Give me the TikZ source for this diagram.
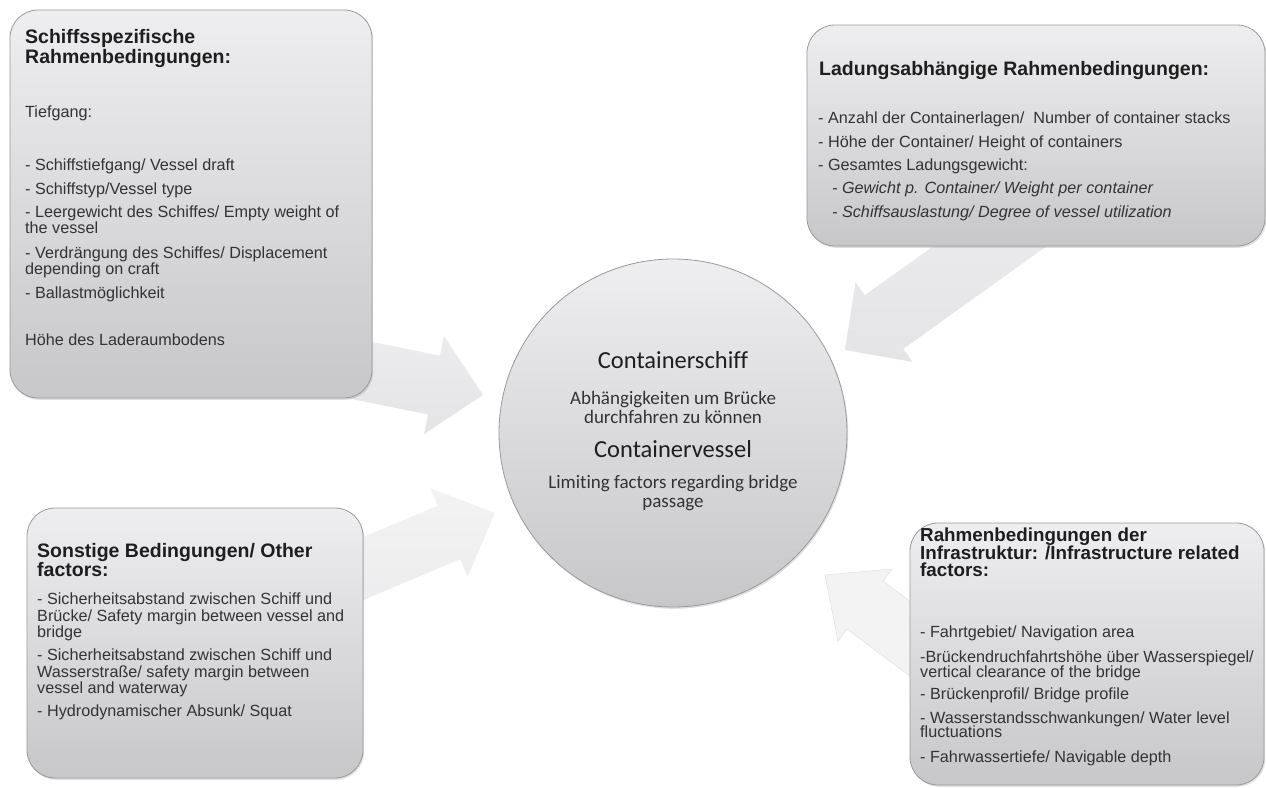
\documentclass[tikz,border=0pt]{standalone}
\usepackage{fontspec}
\setmainfont{Liberation Sans}
\newfontfamily\carl[Ligatures=NoCommon]{Carlito}
\usetikzlibrary{calc,shadows}
\definecolor{boxtop}{HTML}{EEEEF0}
\definecolor{boxbot}{HTML}{C7C7C9}
\definecolor{boxline}{HTML}{9A9A9A}
\definecolor{hdrcol}{HTML}{1E1E1E}
\definecolor{bodycol}{HTML}{333333}
\definecolor{arrA}{HTML}{E4E4E6}
\definecolor{arrB}{HTML}{ECECEE}
\definecolor{arrC}{HTML}{F3F3F3}
\newcommand\blockarr[6]{%
  \coordinate (#1h) at ($(#2)!#5!(#1)$);
  \path[#6] ($(#1)!#3!90:(#2)$) -- ($(#1h)!#3!-90:(#1)$) -- ($(#1h)!#4!-90:(#1)$)
    -- (#2) -- ($(#1h)!#4!90:(#1)$) -- ($(#1h)!#3!90:(#1)$) -- ($(#1)!#3!-90:(#2)$) -- cycle;}
\tikzset{
  box/.style={draw=boxline, line width=0.8pt, rounded corners=28pt, top color=boxtop,
    bottom color=boxbot, inner sep=0pt, drop shadow={opacity=0.25, shadow xshift=1.2pt, shadow yshift=-1.8pt}},
  circ/.style={circle, draw=boxline, line width=0.8pt, top color=boxtop, bottom color=boxbot,
    inner sep=0pt, minimum size=348pt, drop shadow={opacity=0.25, shadow xshift=1.2pt, shadow yshift=-1.8pt}},
  hdr/.style={anchor=base west, inner sep=0pt, text=hdrcol, font=\bfseries\fontsize{19.5}{19.5}\selectfont},
  hdrm/.style={anchor=north west, inner sep=0pt, align=left, text=hdrcol},
  body/.style={anchor=base west, inner sep=0pt, text=bodycol, font=\fontsize{16.2}{16.2}\selectfont},
  bodyit/.style={body, font=\itshape\fontsize{16.2}{16.2}\selectfont},
  ctitle/.style={anchor=base, inner sep=0pt, text=hdrcol, font=\carl\fontsize{24.5}{24.5}\selectfont},
  csub/.style={anchor=base, inner sep=0pt, text=bodycol, font=\carl\fontsize{19}{19}\selectfont},
  arrowA/.style={top color=arrB, bottom color=arrA},
  arrowB/.style={top color=arrC, bottom color=arrB},
  arrowC/.style={fill=arrC, draw=black!12, line width=0.5pt},
}
\begin{document}
\begin{tikzpicture}[x=1pt,y=-1pt]
\useasboundingbox (0,0) rectangle (1266,787);
\fill[white] (0,0) rectangle (1266,787);
% arrows (drawn first, boxes cover their tails)
\coordinate (a1t) at (330,364);  \coordinate (a1p) at (483,395);
\coordinate (a2t) at (329,583);  \coordinate (a2p) at (495,513);
\coordinate (a3t) at (1030,217.5); \coordinate (a3p) at (845,350);
\coordinate (a4t) at (945,665);  \coordinate (a4p) at (825,575);
\blockarr{a1t}{a1p}{30pt}{50pt}{50pt}{arrowA}
\blockarr{a2t}{a2p}{29pt}{48pt}{50pt}{arrowB}
\blockarr{a3t}{a3p}{33pt}{49pt}{48pt}{arrowA}
\blockarr{a4t}{a4p}{30pt}{45pt}{50pt}{arrowC}
% boxes
\node[box, minimum width=362pt, minimum height=388pt] (tl) at (191,204) {};
\node[box, minimum width=458pt, minimum height=221pt] (tr) at (1036,135.5) {};
\node[box, minimum width=336pt, minimum height=270pt] (bl) at (195,643) {};
\node[box, minimum width=354pt, minimum height=262pt] (br) at (1087,654) {};
\node[circ] (c) at (673,433) {};
% top-left text
\node[hdr] (tl1) at (25,43) {Schiffsspezifische};
\node[hdr] (tl2) at (25,63) {Rahmenbedingungen:};
\node[body] (tl3) at (25,117) {Tiefgang:};
\node[body] (tl4) at (25,170) {- Schiffstiefgang/ Vessel draft};
\node[body] (tl5) at (25,194) {- Schiffstyp/Vessel type};
\node[body] (tl6) at (25,217) {- Leergewicht des Schiffes/ Empty weight of};
\node[body] (tl7) at (25,233) {the vessel};
\node[body] (tl8) at (25,258) {- Verdrängung des Schiffes/ Displacement};
\node[body] (tl9) at (25,274) {depending on craft};
\node[body] (tl10) at (25,298) {- Ballastmöglichkeit};
\node[body] (tl11) at (25,345) {Höhe des Laderaumbodens};
% top-right text
\node[hdr] (tr1) at (819,75) {Ladungsabhängige Rahmenbedingungen:};
\node[body] (tr2) at (818,123) {- Anzahl der Containerlagen/\ \ Number of container stacks};
\node[body] (tr3) at (818,147) {- Höhe der Container/ Height of containers};
\node[body] (tr4) at (818,170) {- Gesamtes Ladungsgewicht:};
\node[bodyit] (tr5) at (832,193) {- Gewicht p. Container/ Weight per container};
\node[bodyit] (tr6) at (832,217) {- Schiffsauslastung/ Degree of vessel utilization};
% centre text
\node[ctitle] (c1) at (673,368) {Containerschiff};
\node[csub] (c2) at (673,404) {Abhängigkeiten um Brücke};
\node[csub] (c3) at (673,423) {durchfahren zu können};
\node[ctitle] (c4) at (673,457) {Containervessel};
\node[csub] (c5) at (673,488) {Limiting factors regarding bridge};
\node[csub] (c6) at (673,507) {passage};
% bottom-left text
\node[hdrm, font=\bfseries\fontsize{19.5}{18}\selectfont] (bl1) at (37,543) {Sonstige Bedingungen/ Other\\factors:};
\node[body] (bl3) at (37,604) {- Sicherheitsabstand zwischen Schiff und};
\node[body] (bl4) at (37,621) {Brücke/ Safety margin between vessel and};
\node[body] (bl5) at (37,637) {bridge};
\node[body] (bl6) at (37,660) {- Sicherheitsabstand zwischen Schiff und};
\node[body] (bl7) at (37,677) {Wasserstraße/ safety margin between};
\node[body] (bl8) at (37,693) {vessel and waterway};
\node[body] (bl9) at (37,716) {- Hydrodynamischer Absunk/ Squat};
% bottom-right text
\node[hdrm, font=\bfseries\fontsize{18.8}{16.5}\selectfont] (br1) at (920,527.5) {Rahmenbedingungen der\\Infrastruktur: /Infrastructure related\\factors:};
\node[body] (br4) at (920,637) {- Fahrtgebiet/ Navigation area};
\node[body] (br5) at (920,662) {-Brückendruchfahrtshöhe über Wasserspiegel/};
\node[body] (br6) at (920,677) {vertical clearance of the bridge};
\node[body] (br7) at (920,699) {- Brückenprofil/ Bridge profile};
\node[body] (br8) at (920,723) {- Wasserstandsschwankungen/ Water level};
\node[body] (br9) at (920,737) {fluctuations};
\node[body] (br10) at (920,762) {- Fahrwassertiefe/ Navigable depth};
\end{tikzpicture}
\end{document}
